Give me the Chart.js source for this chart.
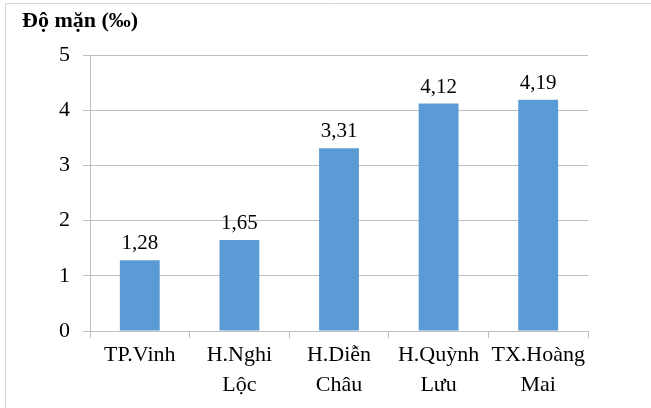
<!DOCTYPE html>
<html>
<head>
<meta charset="utf-8">
<script src="https://cdn.jsdelivr.net/npm/chart.js@4/dist/chart.umd.min.js"></script>
<style>
  html, body { margin: 0; padding: 0; background: #fff; }
  #wrap { width: 651px; height: 408px; position: relative; }
</style>
</head>
<body>
<div id="wrap"><canvas id="c" width="651" height="408"></canvas></div>
<script>
// Độ mặn theo địa phương (‰)
const districts = [
  ['TP.Vinh'],
  ['H.Nghi', 'Lộc'],
  ['H.Diễn', 'Châu'],
  ['H.Quỳnh', 'Lưu'],
  ['TX.Hoàng', 'Mai']
];
const salinity = [1.28, 1.65, 3.31, 4.12, 4.19];
const yTicks = [0, 1, 2, 3, 4, 5];
const unitTitle = 'Độ mặn (‰)';

const serif = '"Liberation Serif", "Times New Roman", serif';
const gridColor = '#bfbfbf';

// Viền khung (trên, trái), tiêu đề và nhãn giá trị trên cột
const decorations = {
  id: 'decorations',
  afterDraw(chart) {
    const ctx = chart.ctx;
    ctx.save();
    ctx.strokeStyle = '#d6d6d6';
    ctx.lineWidth = 1;
    ctx.beginPath();
    ctx.moveTo(5.5, chart.height);
    ctx.lineTo(5.5, 3.5);
    ctx.lineTo(chart.width, 3.5);
    ctx.stroke();

    ctx.fillStyle = '#000';
    ctx.font = 'bold 22px ' + serif;
    ctx.textAlign = 'left';
    ctx.textBaseline = 'middle';
    ctx.fillText(unitTitle, 22, 21);

    ctx.font = '21px ' + serif;
    ctx.textAlign = 'center';
    ctx.textBaseline = 'bottom';
    const meta = chart.getDatasetMeta(0);
    meta.data.forEach((bar, i) => {
      const txt = salinity[i].toFixed(2).replace('.', ',');
      ctx.fillText(txt, bar.x, bar.y - 6);
    });
    ctx.restore();
  }
};

new Chart(document.getElementById('c'), {
  type: 'bar',
  data: {
    labels: districts,
    datasets: [{
      data: salinity,
      backgroundColor: '#5b9bd5',
      borderWidth: 0,
      barPercentage: 0.4,
      categoryPercentage: 1.0
    }]
  },
  options: {
    responsive: false,
    animation: false,
    layout: { padding: { left: 0, right: 63, top: 55, bottom: 0 } },
    plugins: { legend: { display: false }, tooltip: { enabled: false } },
    scales: {
      x: {
        grid: {
          offset: true,
          drawOnChartArea: false,
          drawTicks: true,
          tickLength: 7,
          color: gridColor
        },
        border: { color: gridColor },
        ticks: {
          color: '#000',
          font: { family: serif, size: 22, lineHeight: 1.36 },
          padding: 2,
          maxRotation: 0,
          autoSkip: false
        },
        afterFit(scale) { scale.height = 77; }
      },
      y: {
        min: 0,
        max: 5,
        afterBuildTicks(scale) { scale.ticks = yTicks.map(v => ({ value: v })); },
        grid: { color: gridColor, tickLength: 7, drawTicks: true },
        border: { color: gridColor },
        ticks: {
          color: '#000',
          font: { family: serif, size: 22 },
          padding: 13
        },
        afterFit(scale) { scale.width = 90; }
      }
    }
  },
  plugins: [decorations]
});
</script>
</body>
</html>
